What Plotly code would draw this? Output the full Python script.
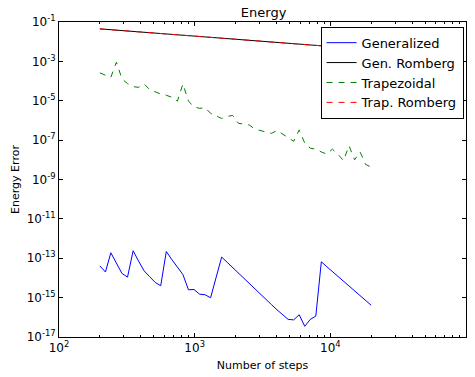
import plotly.graph_objects as go

# Number of integration steps (log-spaced from 200 to 20000)
steps = [200, 220, 241, 265, 291, 320, 352, 386, 424, 466,
         512, 562, 618, 679, 746, 819, 900, 988, 1086, 1193,
         1310, 1439, 1581, 1737, 1908, 2096, 2303, 2530, 2779, 3053,
         3354, 3684, 4047, 4446, 4884, 5366, 5894, 6475, 7113, 7814,
         8584, 9430, 10359, 11380, 12502, 13734, 15087, 16573, 18206, 20000]

# Energy error of each scheme
err_generalized = [4.1e-14, 2.0e-14, 1.9e-13, 5.5e-14, 1.7e-14, 1.1e-14, 2.4e-13, 7.1e-14, 2.3e-14, 1.15e-14,
                   5.9e-15, 4.0e-15, 2.2e-13, 8.5e-14, 3.4e-14, 1.5e-14, 2.5e-15, 2.6e-15, 1.5e-15, 1.4e-15,
                   9.8e-16, 1.07e-14, 1.15e-13, 6.2e-14, 3.3e-14, 1.8e-14, 9.6e-15, 5.2e-15, 2.8e-15, 1.5e-15,
                   8.1e-16, 4.4e-16, 2.4e-16, 1.3e-16, 7.9e-17, 7.4e-17, 1.35e-16, 3.5e-17, 7.8e-17, 1.15e-16,
                   6.6e-14, 3.7e-14, 2.1e-14, 1.2e-14, 6.9e-15, 3.9e-15, 2.2e-15, 1.26e-15, 7.2e-16, 4.1e-16]

err_gen_romberg = [4.47e-2, 4.25e-2, 4.05e-2, 3.85e-2, 3.66e-2, 3.49e-2, 3.32e-2, 3.16e-2, 3.01e-2, 2.86e-2,
                   2.72e-2, 2.59e-2, 2.47e-2, 2.35e-2, 2.24e-2, 2.13e-2, 2.03e-2, 1.93e-2, 1.84e-2, 1.75e-2,
                   1.66e-2, 1.58e-2, 1.51e-2, 1.43e-2, 1.36e-2, 1.30e-2, 1.24e-2, 1.18e-2, 1.12e-2, 1.07e-2,
                   1.01e-2, 9.65e-3, 9.18e-3, 8.74e-3, 8.32e-3, 7.92e-3, 7.54e-3, 7.17e-3, 6.83e-3, 6.50e-3,
                   6.18e-3, 5.89e-3, 5.60e-3, 5.33e-3, 5.07e-3, 4.83e-3, 4.60e-3, 4.37e-3, 4.16e-3, 3.96e-3]

err_trapezoidal = [2.6e-4, 1.95e-4, 1.55e-4, 9.1e-4, 1.3e-4, 7.4e-5, 5.2e-5, 4.8e-5, 7.1e-5, 3.7e-5,
                   2.8e-5, 2.2e-5, 1.9e-5, 1.5e-5, 9.5e-6, 7.1e-5, 9.5e-6, 5.0e-6, 4.1e-6, 4.5e-6,
                   2.3e-6, 1.7e-6, 1.26e-6, 1.6e-6, 1.8e-6, 7.2e-7, 6.5e-7, 5.9e-7, 3.6e-7, 3.1e-7,
                   2.5e-7, 2.2e-7, 3.1e-7, 2.0e-7, 1.4e-7, 8.7e-8, 3.3e-7, 7.1e-8, 3.9e-8, 3.5e-8,
                   2.5e-8, 1.95e-8, 3.5e-8, 1.9e-8, 9.1e-9, 5.2e-8, 1.0e-8, 2.5e-8, 5.8e-9, 4.3e-9]

err_trap_romberg = [4.47e-2, 4.25e-2, 4.05e-2, 3.85e-2, 3.66e-2, 3.49e-2, 3.32e-2, 3.16e-2, 3.01e-2, 2.86e-2,
                    2.72e-2, 2.59e-2, 2.47e-2, 2.35e-2, 2.24e-2, 2.13e-2, 2.03e-2, 1.93e-2, 1.84e-2, 1.75e-2,
                    1.66e-2, 1.58e-2, 1.51e-2, 1.43e-2, 1.36e-2, 1.30e-2, 1.24e-2, 1.18e-2, 1.12e-2, 1.07e-2,
                    1.01e-2, 9.65e-3, 9.18e-3, 8.74e-3, 8.32e-3, 7.92e-3, 7.54e-3, 7.17e-3, 6.83e-3, 6.50e-3,
                    6.18e-3, 5.89e-3, 5.60e-3, 5.33e-3, 5.07e-3, 4.83e-3, 4.60e-3, 4.37e-3, 4.16e-3, 3.96e-3]

# Axis ticks
x_tick_vals = [1e2, 1e3, 1e4, 1e5]
x_tick_text = ["10<sup>2</sup>", "10<sup>3</sup>", "10<sup>4</sup>", "10<sup>5</sup>"]
y_tick_vals = [1e-17, 1e-15, 1e-13, 1e-11, 1e-9, 1e-7, 1e-5, 1e-3, 1e-1]
y_tick_text = ["10<sup>-17</sup>", "10<sup>-15</sup>", "10<sup>-13</sup>", "10<sup>-11</sup>",
               "10<sup>-9</sup>", "10<sup>-7</sup>", "10<sup>-5</sup>", "10<sup>-3</sup>", "10<sup>-1</sup>"]

x_minor_vals = [m * 10 ** e for e in (2, 3, 4) for m in range(2, 10)]

FONT = "DejaVu Sans"

fig = go.Figure()
fig.add_trace(go.Scatter(x=steps, y=err_generalized, mode="lines", name="Generalized",
                         line=dict(color="#0000ff", width=1)))
fig.add_trace(go.Scatter(x=steps, y=err_gen_romberg, mode="lines", name="Gen. Romberg",
                         line=dict(color="#000000", width=1)))
fig.add_trace(go.Scatter(x=steps, y=err_trapezoidal, mode="lines", name="Trapezoidal",
                         line=dict(color="#008000", width=1, dash="6px,6px")))
fig.add_trace(go.Scatter(x=steps, y=err_trap_romberg, mode="lines", name="Trap. Romberg",
                         line=dict(color="#ff0000", width=1, dash="6px,6px")))

axis_common = dict(
    showgrid=False, zeroline=False,
    showline=True, linecolor="black", linewidth=1, mirror="ticks",
    ticks="inside", ticklen=4, tickcolor="black", tickwidth=1,
    tickfont=dict(family=FONT, size=12, color="black"),
)

fig.update_xaxes(
    type="log", range=[2, 5],
    tickmode="array", tickvals=x_tick_vals, ticktext=x_tick_text,
    minor=dict(tickmode="array", tickvals=x_minor_vals, ticks="inside", ticklen=2,
               tickcolor="black", tickwidth=1, showgrid=False),
    title=dict(text="Number of steps", font=dict(family=FONT, size=11, color="black"), standoff=6),
    **axis_common,
)
fig.update_yaxes(
    type="log", range=[-17, -1],
    tickmode="array", tickvals=y_tick_vals, ticktext=y_tick_text,
    title=dict(text="Energy Error", font=dict(family=FONT, size=11, color="black"), standoff=4),
    **axis_common,
)

fig.update_layout(
    width=475, height=377,
    margin=dict(l=59, r=8, t=22, b=37),
    paper_bgcolor="white", plot_bgcolor="white",
    font=dict(family=FONT, color="black"),
    title=dict(text="Energy", x=0.555, xanchor="center", y=0.966, yref="container",
               yanchor="middle", font=dict(family=FONT, size=13, color="black")),
    legend=dict(x=0.994, y=0.985, xanchor="right", yanchor="top",
                bgcolor="white", bordercolor="black", borderwidth=1,
                font=dict(family=FONT, size=13, color="black"), itemwidth=30),
    showlegend=True,
)

fig.write_html("out.html")
